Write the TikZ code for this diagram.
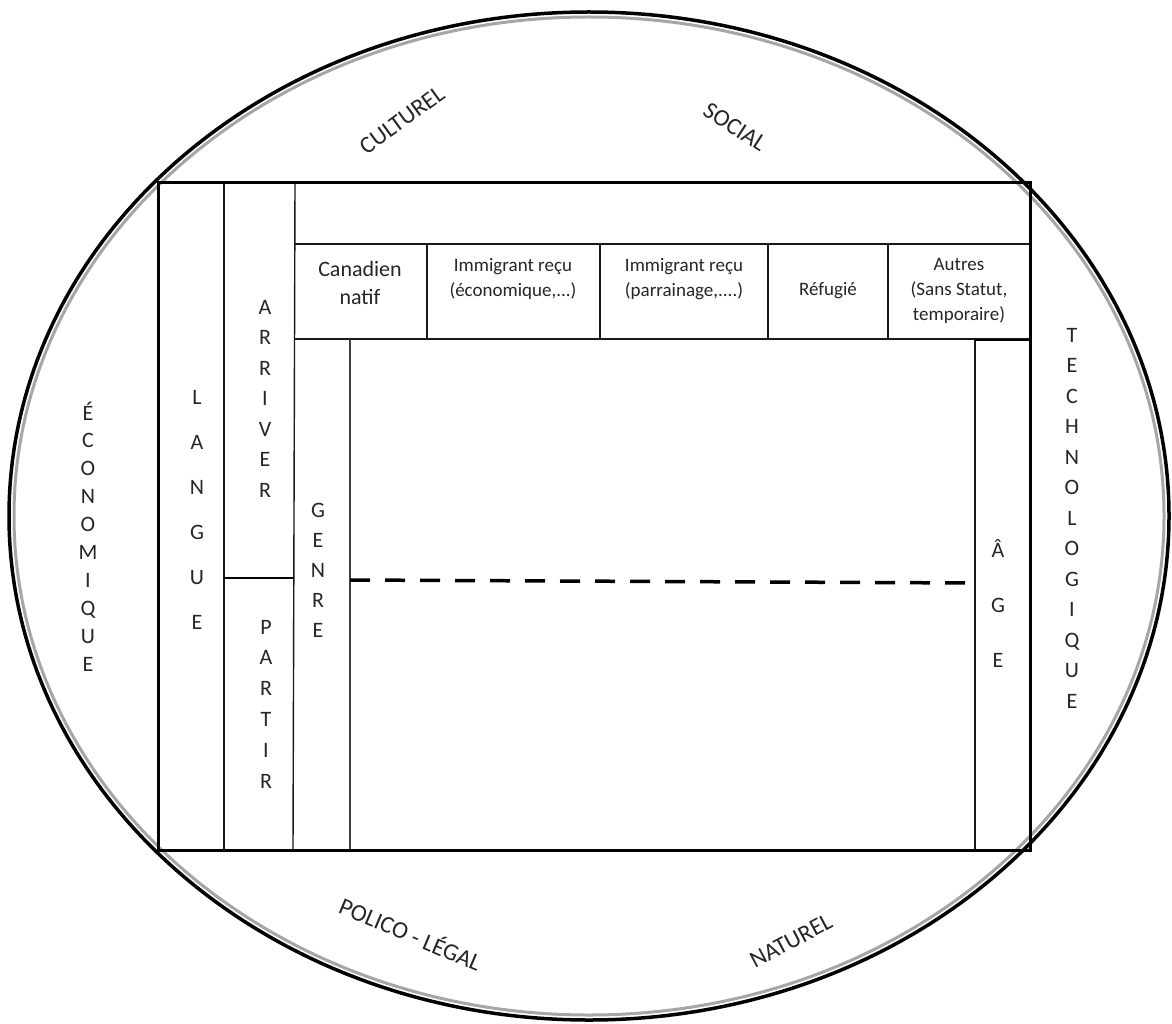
\documentclass[tikz,border=0pt]{standalone}
\usepackage{fontspec}
\setmainfont{Carlito}
\begin{document}
\begin{tikzpicture}[x=1pt,y=-1pt,
  frame/.style={line width=3pt,black},
  thinline/.style={line width=1.4pt,black!90},
  vl/.style={font=\fontsize{22}{26}\selectfont,anchor=base,inner sep=0pt,text=black!85},
  hd/.style={font=\fontsize{19}{25}\selectfont,align=center,inner sep=0pt,text=black!85},
  hdbig/.style={font=\fontsize{22}{28}\selectfont,align=center,inner sep=0pt,text=black!85},
  rl/.style={font=\fontsize{24}{26}\selectfont,inner sep=0pt,text=black!85}]
\path[use as bounding box,fill=white] (0,0) rectangle (1172,1024);
% ellipse with soft inner shadow
\draw[line width=3pt,black!35] (589,516) ellipse [x radius=575,y radius=499];
\draw[line width=3.5pt,black] (589,516) ellipse [x radius=580,y radius=504];
% table lines
\draw[thinline] (224,183) -- (224,850);
\draw[thinline] (295,183) -- (293,850);
\draw[thinline] (295,244) -- (1030,244);
\draw[thinline] (294,339) -- (1030,339);
\foreach \xx in {427,600,768,888} \draw[thinline] (\xx,244) -- (\xx,339);
\draw[thinline,black!75] (350,339) -- (350,850);
\draw[line width=2pt] (224,578) -- (294,578);
\draw[line width=3.5pt,dash pattern=on 20pt off 15pt] (350,580) -- (975,583);
\draw[thinline] (975,339) -- (975,850);
\draw[line width=2.5pt] (975,340) -- (1030,340);
\draw[frame] (158,183) rectangle (1030,850);
% header texts
\node[hdbig] (can) at (360,283) {Canadien\\natif};
\node[hd] (eco) at (513,279) {Immigrant reçu\\(économique,...)};
\node[hd] (par) at (684,279) {Immigrant reçu\\(parrainage,....)};
\node[hd] (ref) at (828,291) {Réfugié};
\node[hd] (aut) at (959,291) {Autres\\(Sans Statut,\\temporaire)};
% vertical words
\foreach \l [count=\i from 0] in {É,C,O,N,O,M,I,Q,U,E}
  \node[vl] (econ\i) at (88,{413+\i*27.9+7}) {\l};
\foreach \l [count=\i from 0] in {L,A,N,G,U,E}
  \node[vl] (lang\i) at (197,{397+\i*45+7}) {\l};
\foreach \l [count=\i from 0] in {A,R,R,I,V,E,R}
  \node[vl] (arr\i) at (265,{307+\i*30.5+7}) {\l};
\foreach \l [count=\i from 0] in {P,A,R,T,I,R}
  \node[vl] (part\i) at (266,{627+\i*30.8+7}) {\l};
\foreach \l [count=\i from 0] in {G,E,N,R,E}
  \node[vl] (gen\i) at (318,{510+\i*30+7}) {\l};
\foreach \l [count=\i from 0] in {Â,G,E}
  \node[vl] (age\i) at (998,{550+\i*55+7}) {\l};
\foreach \l [count=\i from 0] in {T,E,C,H,N,O,L,O,G,I,Q,U,E}
  \node[vl] (tech\i) at (1072,{335+\i*30.5+7}) {\l};
% rotated labels
\node[rl,rotate=36] (cult) at (402,120) {CULTUREL};
\node[rl,rotate=-33] (soc) at (735,127) {SOCIAL};
\node[rl,rotate=-23] (pol) at (411,933) {POLICO - LÉGAL};
\node[rl,rotate=28] (nat) at (791,941) {NATUREL};
\end{tikzpicture}
\end{document}
